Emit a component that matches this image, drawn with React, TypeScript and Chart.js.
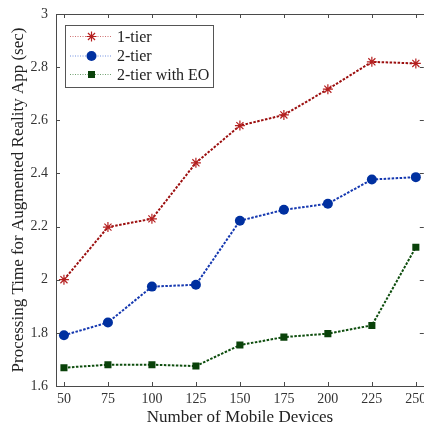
import React, { useEffect, useRef } from "react";
import { Chart, registerables } from "chart.js";

Chart.register(...registerables);

const devices = [50, 75, 100, 125, 150, 175, 200, 225, 250];
const oneTier = [2.0, 2.198, 2.229, 2.44, 2.58, 2.62, 2.717, 2.82, 2.814];
const twoTier = [1.791, 1.839, 1.974, 1.981, 2.222, 2.263, 2.286, 2.377, 2.386];
const twoTierEO = [1.669, 1.68, 1.68, 1.675, 1.754, 1.784, 1.797, 1.828, 2.122];
const xTicks = [50, 75, 100, 125, 150, 175, 200, 225, 250];
const yTicks = [1.6, 1.8, 2, 2.2, 2.4, 2.6, 2.8, 3];
const seriesNames = ["1-tier", "2-tier", "2-tier with EO"];

const FONT = "'Liberation Serif', 'Times New Roman', serif";
const RED_LINE = "#9c0f0f";
const RED_PT = "#b52020";
const BLUE_LINE = "#1538b0";
const BLUE_PT = "#0030a0";
const GREEN_LINE = "#0d4d0d";
const GREEN_PT = "#0a420a";

function drawMarker(ctx: CanvasRenderingContext2D, kind: string, x: number, y: number, color: string) {
  ctx.save();
  if (kind === "star") {
    const r = 5;
    ctx.strokeStyle = color;
    ctx.lineWidth = 1.2;
    ctx.beginPath();
    ctx.moveTo(x - r, y); ctx.lineTo(x + r, y);
    ctx.moveTo(x, y - r); ctx.lineTo(x, y + r);
    const d = r * Math.SQRT1_2;
    ctx.moveTo(x - d, y - d); ctx.lineTo(x + d, y + d);
    ctx.moveTo(x - d, y + d); ctx.lineTo(x + d, y - d);
    ctx.stroke();
  } else if (kind === "circle") {
    ctx.fillStyle = color;
    ctx.beginPath();
    ctx.arc(x, y, 5, 0, Math.PI * 2);
    ctx.fill();
  } else {
    ctx.fillStyle = color;
    ctx.fillRect(x - 3.5, y - 3.5, 7, 7);
  }
  ctx.restore();
}

const framePlugin = {
  id: "framePlugin",
  afterDraw(chart: any) {
    const ctx = chart.ctx as CanvasRenderingContext2D;
    const { left, right, top, bottom } = chart.chartArea;
    const xs = chart.scales.x;
    const ys = chart.scales.y;
    ctx.save();
    ctx.strokeStyle = "#4a4a4a";
    ctx.lineWidth = 1;
    ctx.strokeRect(Math.round(left) + 0.5, Math.round(top) + 0.5, Math.round(right - left), Math.round(bottom - top));
    ctx.beginPath();
    const tl = 4;
    for (const v of xTicks) {
      const px = Math.round(xs.getPixelForValue(v)) + 0.5;
      ctx.moveTo(px, bottom); ctx.lineTo(px, bottom - tl);
      ctx.moveTo(px, top); ctx.lineTo(px, top + tl);
    }
    for (const v of yTicks) {
      const py = Math.round(ys.getPixelForValue(v)) + 0.5;
      ctx.moveTo(left, py); ctx.lineTo(left + tl, py);
      ctx.moveTo(right, py); ctx.lineTo(right - tl, py);
    }
    ctx.stroke();

    // legend
    const bx = 65.5, by = 25.5, bw = 148, bh = 62;
    ctx.fillStyle = "#ffffff";
    ctx.fillRect(bx, by, bw, bh);
    ctx.strokeStyle = "#555555";
    ctx.strokeRect(bx, by, bw, bh);
    const rows = [36.5, 56, 74.5];
    const lineCols = ["#d07070", "#7090e0", "#70a070"];
    const ptCols = [RED_PT, BLUE_PT, GREEN_PT];
    const kinds = ["star", "circle", "rect"];
    rows.forEach((ry, i) => {
      ctx.save();
      ctx.strokeStyle = lineCols[i];
      ctx.lineWidth = 1;
      ctx.setLineDash([1, 1.5]);
      ctx.beginPath();
      ctx.moveTo(70, ry); ctx.lineTo(112, ry);
      ctx.stroke();
      ctx.restore();
      drawMarker(ctx, kinds[i], 91.5, ry, ptCols[i]);
      ctx.save();
      ctx.font = "normal normal 16px \"Liberation Serif\", serif";
      ctx.textBaseline = "middle";
      ctx.textAlign = "left";
      ctx.fillStyle = "#222222";
      ctx.fillText(seriesNames[i], 117, ry + 1);
      ctx.restore();
    });
    ctx.restore();
  },
};

export default function App() {
  const ref = useRef<HTMLCanvasElement | null>(null);
  useEffect(() => {
    if (!ref.current) return;
    const mk = (vals: number[]) => vals.map((v, i) => ({ x: devices[i], y: v }));
    const chart = new Chart(ref.current, {
      type: "line",
      data: {
        datasets: [
          {
            label: seriesNames[0],
            data: mk(oneTier),
            borderColor: RED_LINE,
            borderWidth: 2,
            borderDash: [2.5, 1.5],
            pointStyle: "star",
            pointRadius: 5,
            pointBorderColor: RED_PT,
            pointBackgroundColor: RED_PT,
            pointBorderWidth: 1.2,
            tension: 0,
          },
          {
            label: seriesNames[1],
            data: mk(twoTier),
            borderColor: BLUE_LINE,
            borderWidth: 2,
            borderDash: [2.5, 1.5],
            pointStyle: "circle",
            pointRadius: 5,
            pointBorderWidth: 0,
            pointBackgroundColor: BLUE_PT,
            pointBorderColor: BLUE_PT,
            tension: 0,
          },
          {
            label: seriesNames[2],
            data: mk(twoTierEO),
            borderColor: GREEN_LINE,
            borderWidth: 2,
            borderDash: [2.5, 1.5],
            pointStyle: "rect",
            pointRadius: 5,
            pointBorderWidth: 0,
            pointBackgroundColor: GREEN_PT,
            pointBorderColor: GREEN_PT,
            tension: 0,
          },
        ],
      },
      options: {
        animation: false,
        responsive: false,
        devicePixelRatio: 1,
        layout: { padding: { top: 14, right: 4, left: 0, bottom: 0 } },
        plugins: { legend: { display: false }, tooltip: { enabled: false } },
        scales: {
          x: {
            type: "linear",
            min: 45.48,
            max: 254.52,
            afterBuildTicks: (s: any) => { s.ticks = xTicks.map((v) => ({ value: v })); },
            afterFit: (s: any) => { s.height = 42; s.paddingLeft = 0; s.paddingRight = 0; },
            grid: { display: false, drawTicks: false },
            border: { display: false },
            ticks: { color: "#333333", font: { family: FONT, size: 14 }, padding: 5, maxRotation: 0, autoSkip: false },
            title: {
              display: true,
              text: "Number of Mobile Devices",
              color: "#222222",
              font: { family: FONT, size: 17 },
              padding: { top: 0, bottom: 0 },
            },
          },
          y: {
            type: "linear",
            min: 1.6,
            max: 3,
            afterBuildTicks: (s: any) => { s.ticks = yTicks.map((v) => ({ value: v })); },
            afterFit: (s: any) => { s.width = 56; s.paddingTop = 0; s.paddingBottom = 0; },
            grid: { display: false, drawTicks: false },
            border: { display: false },
            ticks: {
              color: "#333333",
              font: { family: FONT, size: 14 },
              padding: 8,
              autoSkip: false,
              callback: (v: any) => String(Math.round(Number(v) * 10) / 10),
            },
            title: {
              display: true,
              text: "Processing Time for Augmented Reality App (sec)",
              color: "#222222",
              font: { family: FONT, size: 17 },
              padding: { top: 8, bottom: 0 },
            },
          },
        },
      },
      plugins: [framePlugin],
    });
    return () => chart.destroy();
  }, []);
  return (
    <div style={{ position: "fixed", left: 0, top: 0, width: 424, height: 428, overflow: "hidden", background: "#fff" }}>
      <canvas ref={ref} width={430} height={428} style={{ display: "block", width: 430, height: 428 }} />
    </div>
  );
}
